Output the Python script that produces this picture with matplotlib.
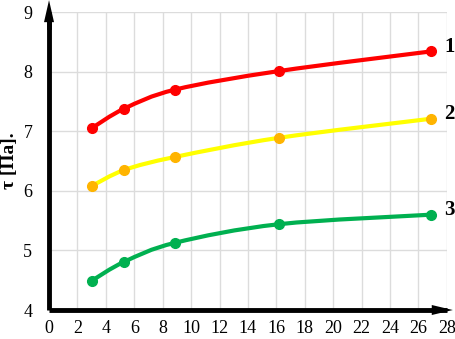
import numpy as np
import matplotlib.pyplot as plt
from matplotlib.path import Path
from matplotlib.patches import PathPatch

plt.rcParams['font.family'] = ['Liberation Serif', 'DejaVu Serif']

# datos
x = [3.0, 5.3, 8.9, 16.2, 26.9]
tau1 = [7.05, 7.38, 7.70, 8.01, 8.34]
tau2 = [6.08, 6.35, 6.57, 6.89, 7.21]
tau3 = [4.49, 4.81, 5.13, 5.44, 5.60]
etiquetas = ['1', '2', '3']
x_ticks = list(range(0, 29, 2))
y_ticks = [4, 5, 6, 7, 8, 9]


def curva(ax, xs, ys, color, lw):
    # Catmull-Rom -> Bezier para una linea suave que pase por los puntos
    pts = np.column_stack([xs, ys])
    verts = [pts[0]]
    codes = [Path.MOVETO]
    n = len(pts)
    for i in range(n - 1):
        p0 = pts[max(i - 1, 0)]
        p1 = pts[i]
        p2 = pts[i + 1]
        p3 = pts[min(i + 2, n - 1)]
        c1 = p1 + (p2 - p0) / 6
        c2 = p2 - (p3 - p1) / 6
        verts += [c1, c2, p2]
        codes += [Path.CURVE4] * 3
    ax.add_patch(PathPatch(Path(verts, codes), fill=False, edgecolor=color,
                           lw=lw, capstyle='round', zorder=3))


fig = plt.figure(figsize=(4.56, 3.39), dpi=100)
ax = fig.add_axes([0.1075, 0.0855, 0.8725, 0.879])

series = [(tau1, '#ff0000', '#ff0000'),
          (tau2, '#ffff00', '#ffb400'),
          (tau3, '#00b050', '#00b050')]
for (ys, lc, mc), lab in zip(series, etiquetas):
    curva(ax, x, ys, lc, 3)
    ax.plot(x, ys, 'o', color=mc, ms=7, zorder=4)
    ax.text(x[-1] + 0.9, ys[-1] + 0.08, lab, fontsize=15, fontweight='bold',
            va='center', ha='left')

ax.set_xlim(0, 28)
ax.set_ylim(4, 9)
ax.set_xticks(x_ticks)
ax.set_yticks(y_ticks)
ax.tick_params(axis='x', length=0, labelsize=13, pad=7)
ax.tick_params(axis='y', length=0, labelsize=13, pad=12)
ax.grid(True, color='#dcdcdc', lw=1)
ax.set_axisbelow(True)
for s in ['top', 'right']:
    ax.spines[s].set_visible(False)
for s in ['left', 'bottom']:
    ax.spines[s].set_linewidth(3.5)
    ax.spines[s].set_capstyle('butt')
ax.set_ylabel('τ [Па].', fontsize=14, fontweight='bold', labelpad=4)

# puntas de flecha de los ejes
ax.fill([-0.0126, 0.0126, 0.0], [0.966, 0.966, 1.04], color='black',
        transform=ax.transAxes, clip_on=False, lw=0, zorder=5)
ax.fill([0.962, 0.962, 1.015], [-0.0168, 0.0168, 0.0], color='black',
        transform=ax.transAxes, clip_on=False, lw=0, zorder=5)
ax.plot([0, 0], [0.95, 0.99], color='black', lw=3.5, transform=ax.transAxes,
        clip_on=False, zorder=5)

plt.savefig('out.png', dpi=100)
